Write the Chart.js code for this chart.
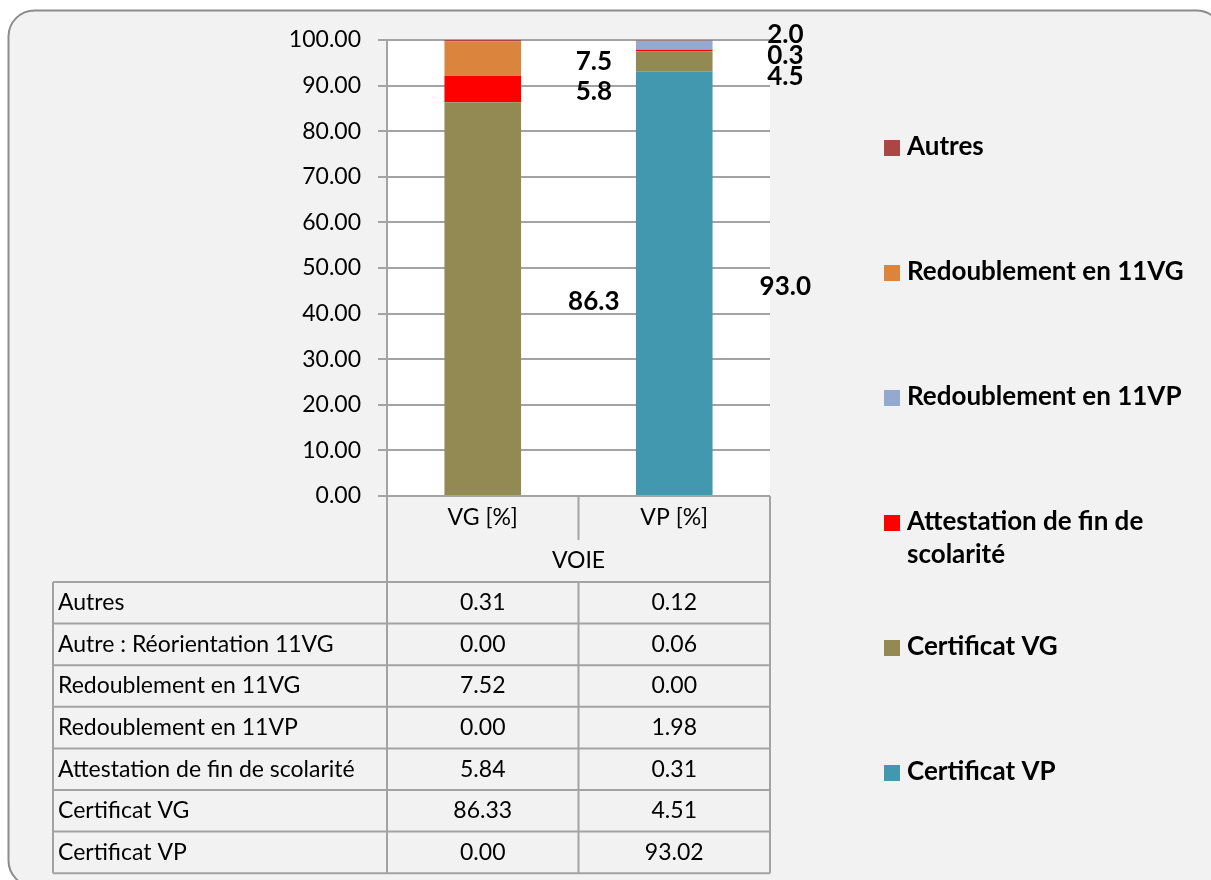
<!DOCTYPE html>
<html>
<head>
<meta charset="utf-8">
<script src="https://cdn.jsdelivr.net/npm/chart.js@4"></script>
<style>
  body { margin: 0; background: #fff; }
</style>
</head>
<body>
<canvas id="myChart" width="1211" height="880"></canvas>
<script>
  // categories and tick values
  let categories = ['VG [%]', 'VP [%]'];
  let axisTitle = 'VOIE';
  let yTicks = [0, 10, 20, 30, 40, 50, 60, 70, 80, 90, 100];

  // series, in table order (top row first)
  let seriesNames = [
    'Autres',
    'Autre : Réorientation 11VG',
    'Redoublement en 11VG',
    'Redoublement en 11VP',
    'Attestation de fin de scolarité',
    'Certificat VG',
    'Certificat VP'
  ];
  let autres = [0.31, 0.12];
  let reorientation = [0.00, 0.06];
  let redoublementVG = [7.52, 0.00];
  let redoublementVP = [0.00, 1.98];
  let attestation = [5.84, 0.31];
  let certificatVG = [86.33, 4.51];
  let certificatVP = [0.00, 93.02];

  let seriesValues = [autres, reorientation, redoublementVG, redoublementVP, attestation, certificatVG, certificatVP];
  let seriesColors = ['#ab4644', '#8b7d52', '#db843d', '#93a9cf', '#ff0000', '#938953', '#4198af'];
  let inLegend = [true, false, true, true, true, true, true];
  let withLabels = [false, false, true, true, true, true, true];

  const FONT = 'Lato';
  const lineColor = '#a3a3a3';

  // stack from the bottom: last table row first
  let datasets = [];
  for (let i = seriesNames.length - 1; i >= 0; i--) {
    datasets.push({
      label: seriesNames[i],
      data: seriesValues[i],
      backgroundColor: seriesColors[i],
      borderWidth: 0,
      showInLegend: inLegend[i],
      showLabels: withLabels[i]
    });
  }

  let framePlugin = {
    id: 'frame',
    beforeDraw(chart) {
      let ctx = chart.ctx;
      let ca = chart.chartArea;
      ctx.save();
      ctx.fillStyle = '#ffffff';
      ctx.fillRect(0, 0, chart.width, chart.height);
      ctx.beginPath();
      ctx.roundRect(8.5, 10.5, 1214, 876, 26);
      ctx.fillStyle = '#f2f2f2';
      ctx.fill();
      ctx.lineWidth = 2;
      ctx.strokeStyle = '#8c8c8c';
      ctx.stroke();
      ctx.fillStyle = '#ffffff';
      ctx.fillRect(ca.left, ca.top, ca.right - ca.left, ca.bottom - ca.top);
      ctx.restore();
    }
  };

  // bold value labels beside each bar, pushed apart when they collide
  let labelPlugin = {
    id: 'valueLabels',
    afterDatasetsDraw(chart) {
      let ctx = chart.ctx;
      ctx.save();
      ctx.font = 'bold 26px ' + FONT;
      ctx.fillStyle = '#000';
      ctx.textAlign = 'center';
      ctx.textBaseline = 'middle';
      categories.forEach((c, j) => {
        let items = [];
        let bx = 0;
        chart.data.datasets.forEach((ds, i) => {
          let el = chart.getDatasetMeta(i).data[j];
          bx = el.x + el.width * 1.45;
          if (!ds.showLabels || ds.data[j] <= 0) return;
          items.push({ y: (el.y + el.base) / 2, text: ds.data[j].toFixed(1) });
        });
        items.sort((a, b) => a.y - b.y);
        let gap = 21;
        let groups = items.map(it => ({ items: [it], y: it.y }));
        let merged = true;
        while (merged) {
          merged = false;
          for (let k = 0; k < groups.length - 1; k++) {
            let a = groups[k], b = groups[k + 1];
            let aBottom = a.y + (a.items.length - 1) * gap / 2;
            let bTop = b.y - (b.items.length - 1) * gap / 2;
            if (bTop - aBottom < gap) {
              let all = a.items.concat(b.items);
              groups.splice(k, 2, { items: all, y: all.reduce((s, it) => s + it.y, 0) / all.length });
              merged = true;
              break;
            }
          }
        }
        groups.forEach(g => {
          let start = g.y - (g.items.length - 1) * gap / 2 + 3;
          g.items.forEach((it, k) => ctx.fillText(it.text, bx, start + k * gap));
        });
      });
      ctx.restore();
    }
  };

  let tablePlugin = {
    id: 'dataTable',
    afterDraw(chart) {
      let ctx = chart.ctx;
      let ca = chart.chartArea;
      let xs = chart.scales.x;
      let left = 53;
      let c0 = ca.left, c2 = ca.right;
      let c1 = (xs.getPixelForValue(0) + xs.getPixelForValue(1)) / 2;
      let headerH = 86;
      let rowH = 41.6;
      let top = ca.bottom + headerH;
      let bottom = top + rowH * seriesNames.length;

      ctx.save();
      ctx.strokeStyle = lineColor;
      ctx.lineWidth = 2;
      ctx.beginPath();
      ctx.moveTo(c0, ca.bottom); ctx.lineTo(c0, bottom);
      ctx.moveTo(c2, ca.bottom); ctx.lineTo(c2, bottom);
      ctx.moveTo(c1, ca.bottom); ctx.lineTo(c1, ca.bottom + 44);
      ctx.moveTo(c1, top); ctx.lineTo(c1, bottom);
      ctx.moveTo(left, top); ctx.lineTo(left, bottom);
      for (let r = 0; r <= seriesNames.length; r++) {
        let y = top + r * rowH;
        ctx.moveTo(left, y); ctx.lineTo(c2, y);
      }
      ctx.stroke();

      ctx.fillStyle = '#000';
      ctx.font = '23px ' + FONT;
      ctx.textBaseline = 'middle';
      ctx.textAlign = 'center';
      categories.forEach((c, j) => ctx.fillText(c, xs.getPixelForValue(j), ca.bottom + 22));
      ctx.fillText(axisTitle, (c0 + c2) / 2, ca.bottom + 65);

      seriesNames.forEach((name, r) => {
        let y = top + r * rowH + rowH / 2;
        ctx.textAlign = 'left';
        ctx.fillText(name, left + 5, y);
        ctx.textAlign = 'center';
        seriesValues[r].forEach((v, j) => ctx.fillText(v.toFixed(2), xs.getPixelForValue(j), y));
      });
      ctx.restore();
    }
  };

  let legendPlugin = {
    id: 'sideLegend',
    afterDraw(chart) {
      let ctx = chart.ctx;
      let x = 884, y = 147, step = 125, maxW = 296;
      ctx.save();
      ctx.font = 'bold 26px ' + FONT;
      ctx.textBaseline = 'middle';
      ctx.textAlign = 'left';
      let list = chart.data.datasets.slice().reverse().filter(ds => ds.showInLegend);
      list.forEach((ds, i) => {
        let yy = y + i * step;
        ctx.fillStyle = ds.backgroundColor;
        ctx.fillRect(x, yy - 7, 16, 16);
        ctx.fillStyle = '#000';
        let words = ds.label.split(' ');
        let lines = [];
        let cur = '';
        words.forEach(w => {
          let test = cur ? cur + ' ' + w : w;
          if (ctx.measureText(test).width > maxW && cur) { lines.push(cur); cur = w; }
          else cur = test;
        });
        lines.push(cur);
        lines.forEach((l, k) => ctx.fillText(l, x + 23, yy + k * 33));
      });
      ctx.restore();
    }
  };

  let myChart = document.getElementById('myChart').getContext('2d');

  let stackedChart = new Chart(myChart, {
    type: 'bar',
    data: {
      labels: categories,
      datasets: datasets
    },
    options: {
      responsive: false,
      animation: false,
      devicePixelRatio: 1,
      layout: {
        padding: { left: 0, top: 40, right: 441, bottom: 384 }
      },
      datasets: {
        bar: { categoryPercentage: 1, barPercentage: 0.4 }
      },
      scales: {
        x: {
          display: false,
          stacked: true
        },
        y: {
          stacked: true,
          min: 0,
          max: 100,
          afterFit(scale) { scale.width = 387; },
          afterBuildTicks(scale) { scale.ticks = yTicks.map(v => ({ value: v })); },
          ticks: {
            callback: v => Number(v).toFixed(2),
            font: { family: FONT, size: 23 },
            color: '#000',
            padding: 17
          },
          grid: {
            color: lineColor,
            lineWidth: 2,
            tickLength: 9
          },
          border: { color: lineColor, width: 2 }
        }
      },
      plugins: {
        legend: { display: false },
        tooltip: { enabled: false }
      }
    },
    plugins: [framePlugin, labelPlugin, tablePlugin, legendPlugin]
  });
</script>
</body>
</html>
